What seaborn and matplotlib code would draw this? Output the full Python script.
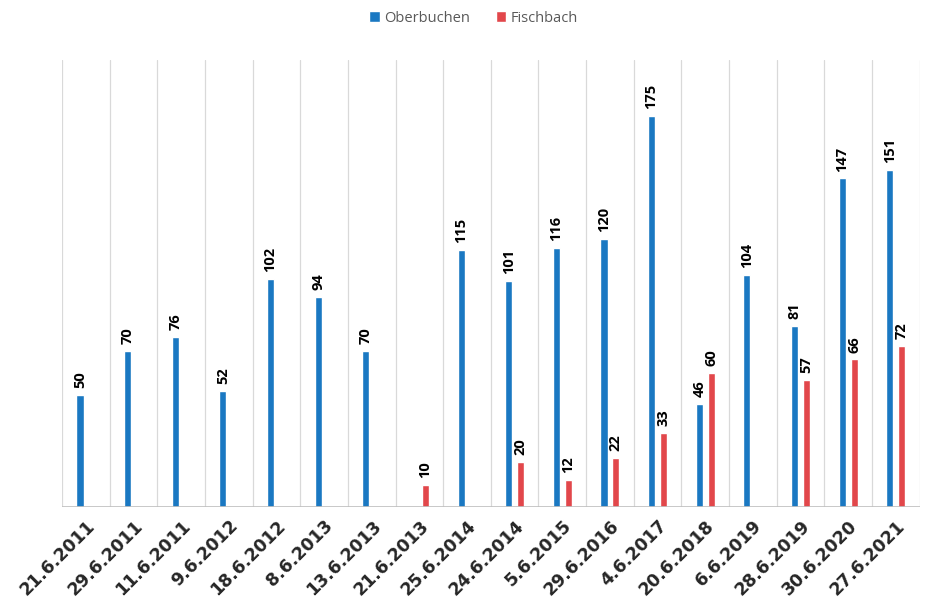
import numpy as np
import pandas as pd
import matplotlib
matplotlib.use("Agg")
import matplotlib.pyplot as plt
import seaborn as sns

dates = ["21.6.2011", "29.6.2011", "11.6.2011", "9.6.2012", "18.6.2012", "8.6.2013",
         "13.6.2013", "21.6.2013", "25.6.2014", "24.6.2014", "5.6.2015", "29.6.2016",
         "4.6.2017", "20.6.2018", "6.6.2019", "28.6.2019", "30.6.2020", "27.6.2021"]
oberbuchen = [50, 70, 76, 52, 102, 94, 70, np.nan, 115, 101, 116, 120, 175, 46, 104, 81, 147, 151]
fischbach = [np.nan, np.nan, np.nan, np.nan, np.nan, np.nan, np.nan, 10, np.nan, 20, 12, 22,
             33, 60, np.nan, 57, 66, 72]
series = ["Oberbuchen", "Fischbach"]
colors = ["#1a78c2", "#e2474b"]

df = pd.DataFrame({"Datum": dates * 2,
                   "Wert": oberbuchen + fischbach,
                   "Ort": [series[0]] * len(dates) + [series[1]] * len(dates)})

sns.set_style("white")
plt.rcParams["font.family"] = ["Open Sans", "DejaVu Sans"]

fig = plt.figure(figsize=(9.27, 6), dpi=100)
ax = fig.add_axes([0.067, 0.155, 0.925, 0.745])

sns.barplot(data=df, x="Datum", y="Wert", hue="Ort", palette=colors, saturation=1,
            width=0.5, gap=0.4, ax=ax, legend=True)

# Datenbeschriftung über den Balken
for cont in ax.containers:
    labels = ["" if np.isnan(v) else f"{int(v)}" for v in cont.datavalues]
    ax.bar_label(cont, labels=labels, rotation=90, padding=5,
                 fontsize=10.5, fontweight="bold", color="black")

n = len(dates)
for x in np.arange(n + 1) - 0.5:
    ax.axvline(x, color="#d9d9d9", lw=0.9, zorder=0)
ax.set_xlim(-0.5, n - 0.5)
ax.set_ylim(0, 200)
ax.axhline(0, color="#bfbfbf", lw=1.2)

ax.set_yticks([])
ax.set_xlabel("")
ax.set_ylabel("")
for s in ax.spines.values():
    s.set_visible(False)
ax.tick_params(axis="x", length=0, pad=7)
plt.setp(ax.get_xticklabels(), rotation=45, ha="right", rotation_mode="anchor",
         fontsize=12.5, fontweight="bold", color="#262626", family="DejaVu Sans")

leg = ax.legend(loc="upper center", bbox_to_anchor=(0.48, 1.14), ncol=2, frameon=False,
                fontsize=10.5, handlelength=0.7, handleheight=0.7, handletextpad=0.3,
                columnspacing=1.8)
for t in leg.get_texts():
    t.set_color("#595959")

fig.savefig("out.png", dpi=100)
